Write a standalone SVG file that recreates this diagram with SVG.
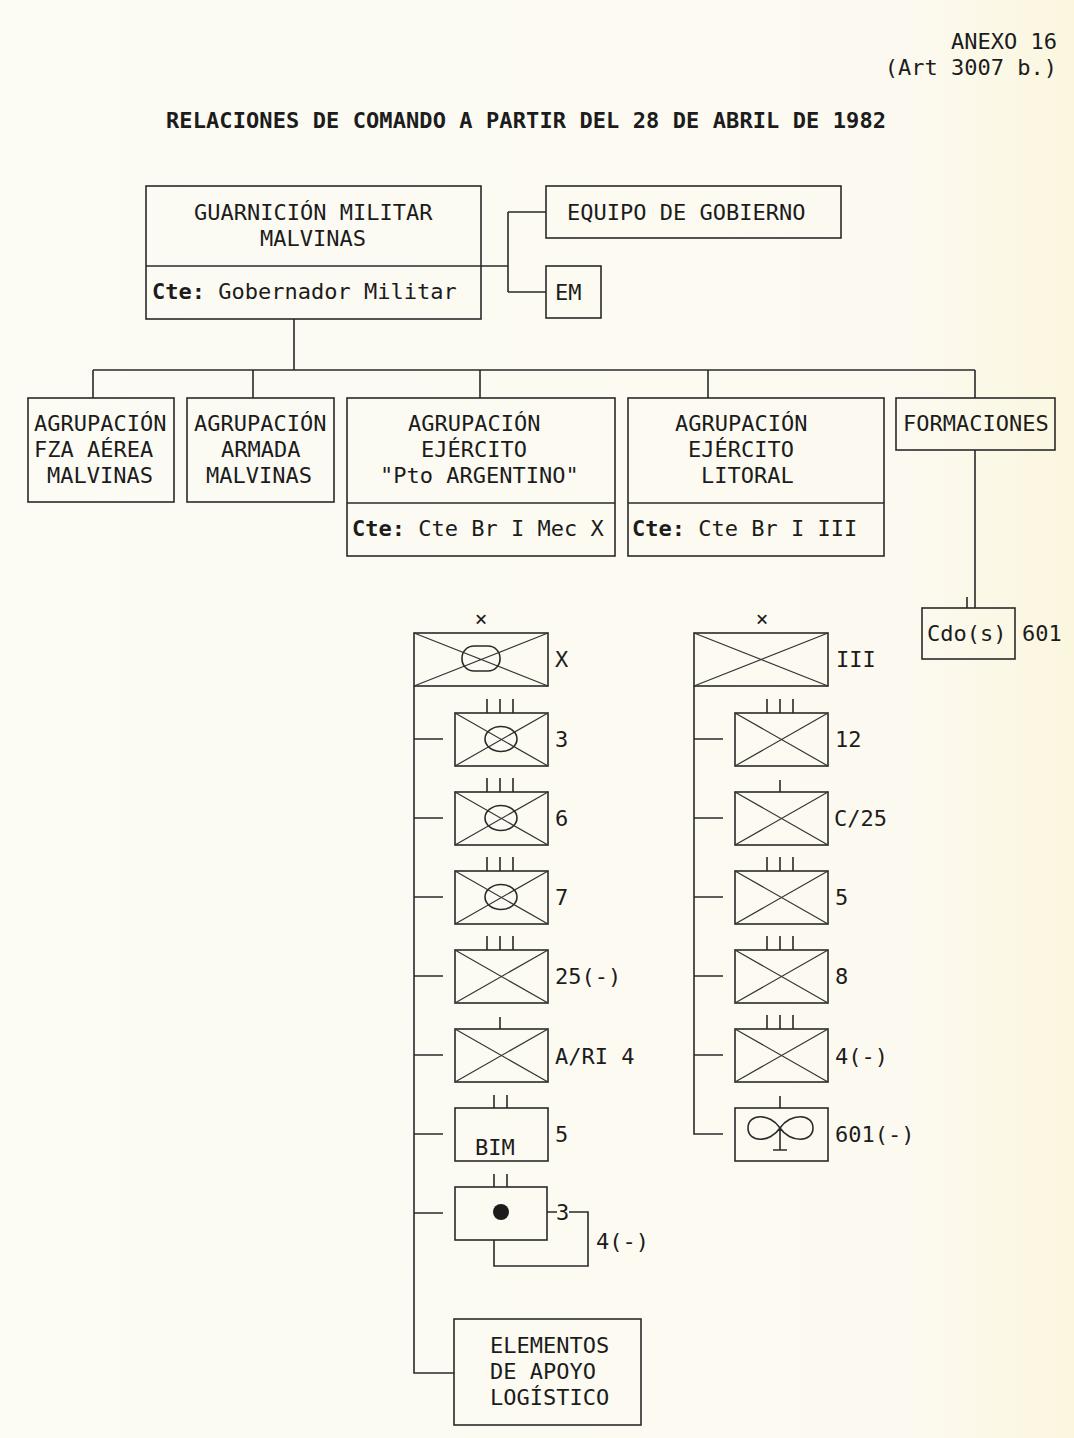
<svg xmlns="http://www.w3.org/2000/svg" xmlns:xlink="http://www.w3.org/1999/xlink" width="1074" height="1438" viewBox="0 0 1074 1438">
<style>
.bx{fill:none;stroke:#2a2a2a;stroke-width:1.6}
.ln{fill:none;stroke:#2a2a2a;stroke-width:1.6}
.dg{fill:none;stroke:#333;stroke-width:1.2}
text{font-family:"DejaVu Sans Mono","Liberation Mono",monospace;font-size:22px;fill:#1c1c1c}
.b{font-weight:bold}
.e{text-anchor:end}
.m{text-anchor:middle}
.x{font-size:21px}
</style>
<defs>
<linearGradient id="bg" x1="0" y1="0" x2="1" y2="0">
<stop offset="0" stop-color="#fcfbf4"/>
<stop offset="0.85" stop-color="#fcfaf0"/>
<stop offset="1" stop-color="#fbf6de"/>
</linearGradient>
<g id="ubox"><rect class="bx" x="0" y="0" width="93" height="53"/><path class="dg" d="M0,0L93,53M93,0L0,53"/></g>
<path id="t3" class="ln" d="M32,0v-14M45,0v-14M58,0v-14"/>
<path id="t2" class="ln" d="M39,0v-13M52,0v-13"/>
<path id="t1" class="ln" d="M45,0v-12"/>
</defs>
<rect x="0" y="0" width="1074" height="1438" fill="url(#bg)"/>

<g id="header">
<text class="e" x="1057" y="49">ANEXO 16</text>
<text class="e" x="1057" y="75">(Art 3007 b.)</text>
<text class="b" x="166" y="128" textLength="720" lengthAdjust="spacing">RELACIONES DE COMANDO A PARTIR DEL 28 DE ABRIL DE 1982</text>
</g>

<g id="connectors">
<path class="ln" d="M481,266H508M508,212V292M508,212H546M508,292H546"/>
<path class="ln" d="M294,319V370M93,370H975M93,370V398M253,370V398M480,370V398M708,370V398M975,370V398"/>
<path class="ln" d="M975,450V608M967,597V608"/>
<path class="ln" d="M414,686V1373H454"/>
<path class="ln" d="M414,739H443M414,818H443M414,897H443M414,976H443M414,1055H443M414,1134H443M414,1213H443"/>
<path class="ln" d="M694,686V1134H723"/>
<path class="ln" d="M694,739H723M694,818H723M694,897H723M694,976H723M694,1055H723"/>
</g>

<g id="guarnicion">
<rect class="bx" x="146" y="186" width="335" height="133"/>
<path class="ln" d="M146,266H481"/>
<text x="194" y="220">GUARNICIÓN MILITAR</text>
<text x="260" y="246">MALVINAS</text>
<text x="152" y="299"><tspan class="b">Cte:</tspan> Gobernador Militar</text>
</g>

<g id="equipo">
<rect class="bx" x="546" y="186" width="295" height="52"/>
<text x="567" y="220">EQUIPO DE GOBIERNO</text>
</g>

<g id="em">
<rect class="bx" x="546" y="266" width="55" height="52"/>
<text x="555" y="300">EM</text>
</g>

<g id="fza-aerea">
<rect class="bx" x="28" y="398" width="146" height="104"/>
<text x="34" y="431">AGRUPACIÓN</text>
<text x="34" y="457">FZA AÉREA</text>
<text x="47" y="483">MALVINAS</text>
</g>

<g id="armada">
<rect class="bx" x="187" y="398" width="147" height="104"/>
<text x="194" y="431">AGRUPACIÓN</text>
<text x="221" y="457">ARMADA</text>
<text x="206" y="483">MALVINAS</text>
</g>

<g id="pto-argentino">
<rect class="bx" x="347" y="398" width="268" height="158"/>
<path class="ln" d="M347,503H615"/>
<text x="408" y="431">AGRUPACIÓN</text>
<text x="421" y="457">EJÉRCITO</text>
<text x="380" y="483">"Pto ARGENTINO"</text>
<text x="352" y="536"><tspan class="b">Cte:</tspan> Cte Br I Mec X</text>
</g>

<g id="litoral">
<rect class="bx" x="628" y="398" width="256" height="158"/>
<path class="ln" d="M628,503H884"/>
<text x="675" y="431">AGRUPACIÓN</text>
<text x="688" y="457">EJÉRCITO</text>
<text x="701" y="483">LITORAL</text>
<text x="632" y="536"><tspan class="b">Cte:</tspan> Cte Br I III</text>
</g>

<g id="formaciones">
<rect class="bx" x="896" y="398" width="159" height="52"/>
<text x="903" y="431">FORMACIONES</text>
</g>

<g id="cdos-601">
<rect class="bx" x="922" y="608" width="93" height="51"/>
<text x="927" y="641">Cdo(s)</text>
<text x="1022" y="641">601</text>
</g>

<g id="br-x">
<text class="m x" x="481" y="626">×</text>
<rect class="bx" x="414" y="633" width="134" height="53"/>
<path class="dg" d="M414,633L548,686M548,633L414,686"/>
<rect class="ln" x="462" y="646" width="38" height="25" rx="12"/>
<text x="555" y="667">X</text>
</g>

<g id="u-3">
<use xlink:href="#ubox" x="455" y="713"/><use xlink:href="#t3" x="455" y="713"/>
<ellipse class="ln" cx="501" cy="739" rx="16" ry="12.5"/>
<text x="555" y="747">3</text>
</g>
<g id="u-6">
<use xlink:href="#ubox" x="455" y="792"/><use xlink:href="#t3" x="455" y="792"/>
<ellipse class="ln" cx="501" cy="818" rx="16" ry="12.5"/>
<text x="555" y="826">6</text>
</g>
<g id="u-7">
<use xlink:href="#ubox" x="455" y="871"/><use xlink:href="#t3" x="455" y="871"/>
<ellipse class="ln" cx="501" cy="897" rx="16" ry="12.5"/>
<text x="555" y="905">7</text>
</g>
<g id="u-25">
<use xlink:href="#ubox" x="455" y="950"/><use xlink:href="#t3" x="455" y="950"/>
<text x="555" y="984">25(-)</text>
</g>
<g id="u-ari4">
<use xlink:href="#ubox" x="455" y="1029"/><use xlink:href="#t1" x="455" y="1029"/>
<text x="555" y="1064">A/RI 4</text>
</g>
<g id="u-bim5">
<rect class="bx" x="455" y="1108" width="93" height="53"/><use xlink:href="#t2" x="455" y="1108"/>
<text x="475" y="1155">BIM</text>
<text x="555" y="1142">5</text>
</g>
<g id="u-art">
<rect class="bx" x="455" y="1187" width="92" height="53"/><use xlink:href="#t2" x="455" y="1187"/>
<circle cx="501" cy="1212" r="8" fill="#1c1c1c"/>
<path class="ln" d="M547,1212H557M569,1212H588V1266H494V1240"/>
<text x="556" y="1220">3</text>
<text x="596" y="1249">4(-)</text>
</g>

<g id="elementos">
<rect class="bx" x="454" y="1319" width="187" height="106"/>
<text x="490" y="1353">ELEMENTOS</text>
<text x="490" y="1379">DE APOYO</text>
<text x="490" y="1405">LOGÍSTICO</text>
</g>

<g id="br-iii">
<text class="m x" x="762" y="626">×</text>
<rect class="bx" x="694" y="633" width="134" height="53"/>
<path class="dg" d="M694,633L828,686M828,633L694,686"/>
<text x="836" y="667">III</text>
</g>
<g id="u-12">
<use xlink:href="#ubox" x="735" y="713"/><use xlink:href="#t3" x="735" y="713"/>
<text x="835" y="747">12</text>
</g>
<g id="u-c25">
<use xlink:href="#ubox" x="735" y="792"/><use xlink:href="#t1" x="735" y="792"/>
<text x="834" y="826">C/25</text>
</g>
<g id="u-5">
<use xlink:href="#ubox" x="735" y="871"/><use xlink:href="#t3" x="735" y="871"/>
<text x="835" y="905">5</text>
</g>
<g id="u-8">
<use xlink:href="#ubox" x="735" y="950"/><use xlink:href="#t3" x="735" y="950"/>
<text x="835" y="984">8</text>
</g>
<g id="u-4">
<use xlink:href="#ubox" x="735" y="1029"/><use xlink:href="#t3" x="735" y="1029"/>
<text x="835" y="1064">4(-)</text>
</g>
<g id="u-601">
<rect class="bx" x="735" y="1108" width="93" height="53"/><use xlink:href="#t1" x="735" y="1108"/>
<path class="ln" d="M780,1128C770,1113 748,1113 748,1128C748,1143 770,1143 780,1128C790,1113 813,1113 813,1128C813,1143 790,1143 780,1128ZM780,1128V1150M773,1150H787"/>
<text x="835" y="1142">601(-)</text>
</g>
</svg>
